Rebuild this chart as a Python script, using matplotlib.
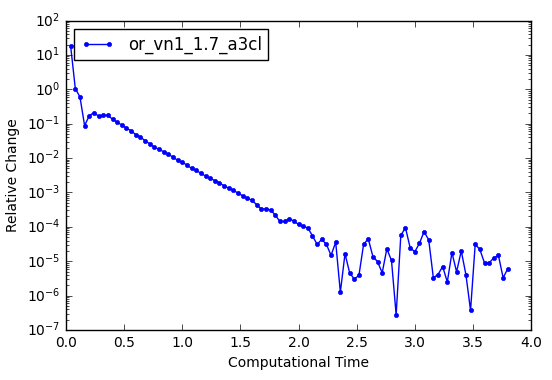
import matplotlib
matplotlib.use("Agg")
import matplotlib.pyplot as plt
import numpy as np

plt.style.use("classic")
plt.rcParams["mathtext.fontset"] = "dejavusans"
plt.rcParams["font.family"] = ["DejaVu Sans"]

series_name = "or_vn1_1.7_a3cl"
x_label = "Computational Time"
y_label = "Relative Change"

time = [round(0.04 * k, 2) for k in range(1, 96)]
rel_change = [
    18.0, 1.05, 0.60, 0.088, 0.17, 0.21, 0.165, 0.175, 0.175, 0.135,
    0.11, 0.091, 0.074, 0.062, 0.048, 0.041, 0.032, 0.026, 0.0206, 0.018,
    0.0153, 0.0129, 0.0107, 0.0086, 0.0075, 0.0063, 0.0050, 0.0044, 0.0036, 0.0030,
    0.0026, 0.0022, 0.0019, 0.00155, 0.00133, 0.00116, 0.00095, 0.00080, 0.00068, 0.00059,
    0.00044, 0.00033, 0.00033, 0.00031, 0.00022, 0.000143, 0.000143, 0.00017, 0.000148, 0.000117,
    0.000103, 0.000093, 0.000055, 0.000031, 0.000043, 0.000031, 0.0000148, 0.0000358, 1.25e-6, 1.65e-5,
    4.6e-6, 3.0e-6, 3.9e-6, 3.1e-5, 4.5e-5, 1.37e-5, 9.7e-6, 4.6e-6, 2.3e-5, 1.05e-5,
    2.75e-7, 5.6e-5, 9.5e-5, 2.5e-5, 1.87e-5, 3.3e-5, 7.2e-5, 4.2e-5, 3.3e-6, 4.1e-6,
    7.0e-6, 2.5e-6, 1.78e-5, 4.9e-6, 2.0e-5, 4.1e-6, 3.7e-7, 3.1e-5, 2.2e-5, 8.9e-6,
    8.9e-6, 1.26e-5, 1.47e-5, 3.3e-6, 6.0e-6,
]

fig = plt.figure(figsize=(5.52, 3.8), dpi=100, facecolor="white")
ax = fig.add_axes([66 / 552, 1 - 330 / 380, (531 - 66) / 552, (330 - 20.5) / 380])
ax.plot(time, rel_change, "b.-", label=series_name)
ax.set_yscale("log")
ax.set_xlim(0.0, 4.0)
ax.set_ylim(1e-7, 1e2)
ax.set_xlabel(x_label, fontsize=10)
ax.set_ylabel(y_label, fontsize=10)
ax.tick_params(labelsize=10)
ax.legend(loc="upper left", fontsize=12)
fig.savefig("out.png", dpi=100, facecolor="white")
